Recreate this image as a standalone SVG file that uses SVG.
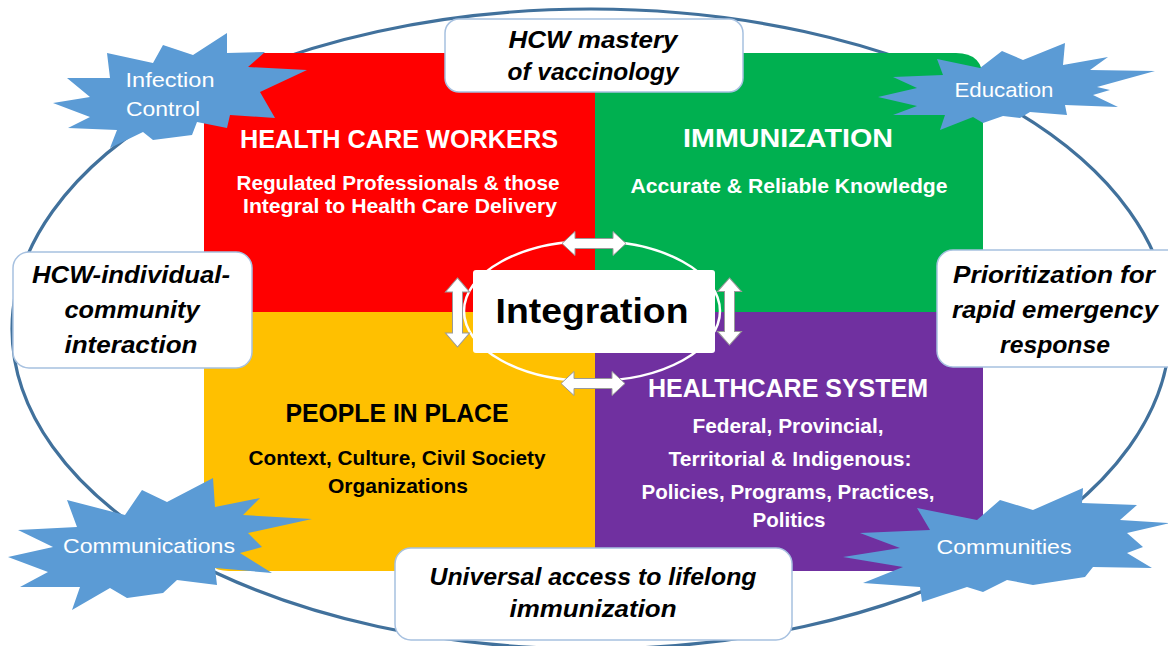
<svg xmlns="http://www.w3.org/2000/svg" width="1168" height="646" viewBox="0 0 1168 646">
<style>
text{font-family:"Liberation Sans",Arial,sans-serif;text-anchor:middle}
.hd{font-size:25px;font-weight:bold}
.sub{font-size:21px;font-weight:bold}
.w{fill:#ffffff}
.k{fill:#000000}
.call{fill:#ffffff;stroke:#a7c1e0;stroke-width:1.5}
.ct{font-size:24px;font-weight:bold;font-style:italic;fill:#000}
.burst{fill:#5b9bd5}
.bt{font-size:21px;fill:#ffffff}
.arr{fill:#ffffff;stroke:#9a9a9a;stroke-width:1}
</style>
<defs>
<path id="dbl" d="M-32,0 L-19,-12 L-19,-5 L19,-5 L19,-12 L32,0 L19,12 L19,5 L-19,5 L-19,12 Z"/>
</defs>
<rect width="1168" height="646" fill="#ffffff"/>
<g id="outer-ring">
<ellipse cx="591" cy="329" rx="579" ry="320" fill="none" stroke="#41719c" stroke-width="3.2"/>
</g>
<g id="health-care-workers">
<path d="M204,312 V78 Q204,53 229,53 H595 V312 Z" fill="#ff0000"/>
<text class="hd w" x="399" y="148" textLength="318" lengthAdjust="spacingAndGlyphs">HEALTH CARE WORKERS</text>
<text class="sub w" x="398" y="190" textLength="323" lengthAdjust="spacingAndGlyphs">Regulated Professionals &amp; those</text>
<text class="sub w" x="400" y="213" textLength="314" lengthAdjust="spacingAndGlyphs">Integral to Health Care Delivery</text>
</g>
<g id="immunization">
<path d="M595,53 H956 Q983,53 983,80 V312 H595 Z" fill="#00b050"/>
<text class="hd w" x="788" y="147" textLength="210" lengthAdjust="spacingAndGlyphs">IMMUNIZATION</text>
<text class="sub w" x="789" y="193" textLength="317" lengthAdjust="spacingAndGlyphs">Accurate &amp; Reliable Knowledge</text>
</g>
<g id="people-in-place">
<path d="M204,312 H595 V571 H229 Q204,571 204,546 Z" fill="#ffc000"/>
<text class="hd k" x="397" y="422" textLength="223" lengthAdjust="spacingAndGlyphs">PEOPLE IN PLACE</text>
<text class="sub k" x="397" y="465" textLength="297" lengthAdjust="spacingAndGlyphs">Context, Culture, Civil Society</text>
<text class="sub k" x="398" y="493" textLength="140" lengthAdjust="spacingAndGlyphs">Organizations</text>
</g>
<g id="healthcare-system">
<path d="M595,312 H983 V546 Q983,571 958,571 H595 Z" fill="#7030a0"/>
<text class="hd w" x="788" y="397" textLength="280" lengthAdjust="spacingAndGlyphs">HEALTHCARE SYSTEM</text>
<text class="sub w" x="788" y="433" textLength="191" lengthAdjust="spacingAndGlyphs">Federal, Provincial,</text>
<text class="sub w" x="790" y="466" textLength="243" lengthAdjust="spacingAndGlyphs">Territorial &amp; Indigenous:</text>
<text class="sub w" x="788" y="499" textLength="293" lengthAdjust="spacingAndGlyphs">Policies, Programs, Practices,</text>
<text class="sub w" x="789" y="527" textLength="73" lengthAdjust="spacingAndGlyphs">Politics</text>
</g>
<g id="integration">
<ellipse cx="592" cy="311" rx="128" ry="70" fill="none" stroke="#ffffff" stroke-width="2.5"/>
<rect x="473" y="270" width="242" height="83" rx="3" fill="#ffffff"/>
<text x="592" y="323" font-size="35" font-weight="bold" fill="#000" textLength="193" lengthAdjust="spacingAndGlyphs">Integration</text>
</g>
<g id="connectors">
<use href="#dbl" class="arr" transform="translate(594,243.5)"/>
<use href="#dbl" class="arr" transform="translate(593,383.5)"/>
<use href="#dbl" class="arr" transform="translate(457.5,312.5) rotate(90) scale(1.08,1)"/>
<use href="#dbl" class="arr" transform="translate(729.5,311.5) rotate(90) scale(1.05,1)"/>
</g>
<g id="hcw-mastery">
<rect class="call" x="445" y="19" width="298" height="73" rx="14"/>
<text class="ct" x="593" y="48" textLength="169" lengthAdjust="spacingAndGlyphs">HCW mastery</text>
<text class="ct" x="593" y="80" textLength="171" lengthAdjust="spacingAndGlyphs">of vaccinology</text>
</g>
<g id="hcw-individual-community">
<rect class="call" x="13" y="252" width="239" height="116" rx="16"/>
<text class="ct" x="131" y="283" textLength="198" lengthAdjust="spacingAndGlyphs">HCW-individual-</text>
<text class="ct" x="132" y="318" textLength="135" lengthAdjust="spacingAndGlyphs">community</text>
<text class="ct" x="131" y="353" textLength="133" lengthAdjust="spacingAndGlyphs">interaction</text>
</g>
<g id="prioritization">
<rect class="call" x="937" y="250" width="245" height="117" rx="16"/>
<text class="ct" x="1054" y="283" textLength="202" lengthAdjust="spacingAndGlyphs">Prioritization for</text>
<text class="ct" x="1055" y="318" textLength="206" lengthAdjust="spacingAndGlyphs">rapid emergency</text>
<text class="ct" x="1055" y="353" textLength="110" lengthAdjust="spacingAndGlyphs">response</text>
</g>
<g id="universal-access">
<rect class="call" x="395" y="548" width="397" height="92" rx="16"/>
<text class="ct" x="593" y="585" textLength="327" lengthAdjust="spacingAndGlyphs">Universal access to lifelong</text>
<text class="ct" x="593" y="617" textLength="167" lengthAdjust="spacingAndGlyphs">immunization</text>
</g>
<g id="infection-control">
<polygon class="burst" points="53,103 90,97 67,78 110,78 107,53 153,63 163,45 193,55 227,33 227,53 265,52 248,67 307,70 260,92 275,118 230,115 227,128 197,122 192,135 153,140 143,132 110,148 117,130 68,128 90,117"/>
<text class="bt" x="170" y="87" textLength="89" lengthAdjust="spacingAndGlyphs">Infection</text>
<text class="bt" x="163" y="116" textLength="74" lengthAdjust="spacingAndGlyphs">Control</text>
</g>
<g id="education">
<polygon class="burst" points="878,97 917,88 893,77 943,75 937,59 980,68 1002,51 1023,60 1065,43 1063,65 1108,57 1090,70 1155,71 1097,87 1110,90 1093,95 1118,107 1065,105 1067,115 1030,112 1020,118 1003,116 983,123 973,117 940,130 945,115 893,115 917,106"/>
<text class="bt" x="1004" y="97" textLength="99" lengthAdjust="spacingAndGlyphs">Education</text>
</g>
<g id="communications">
<polygon class="burst" points="8,557 53,547 18,530 77,527 67,500 125,515 142,490 167,502 213,478 215,507 260,498 243,515 312,519 248,533 262,547 240,553 272,573 215,568 217,585 177,580 163,593 127,598 110,588 72,610 80,587 20,587 48,572"/>
<text class="bt" x="149" y="553" textLength="172" lengthAdjust="spacingAndGlyphs">Communications</text>
</g>
<g id="communities">
<polygon class="burst" points="843,557 900,548 860,533 930,530 917,508 977,520 1000,500 1033,510 1083,488 1082,503 1137,505 1120,520 1170,523 1127,533 1143,547 1127,553 1152,568 1093,567 1085,577 1033,585 1007,580 983,592 967,587 922,602 920,587 863,583 903,567"/>
<text class="bt" x="1004" y="554" textLength="135" lengthAdjust="spacingAndGlyphs">Communities</text>
</g>
</svg>
